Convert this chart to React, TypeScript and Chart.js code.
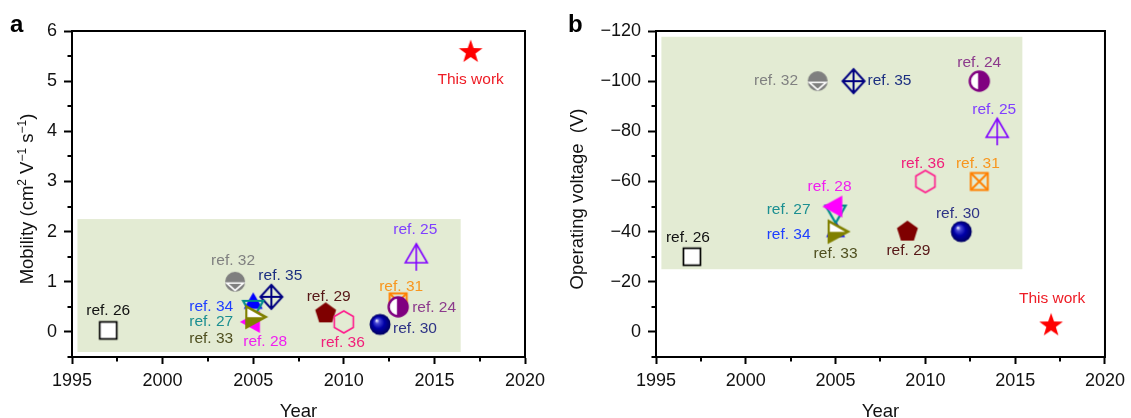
import React, { useEffect, useRef } from 'react';
import { Chart, registerables } from 'chart.js';

Chart.register(...registerables);

// ---------------- data ----------------
const refNames = ['ref. 26', 'ref. 32', 'ref. 35', 'ref. 34', 'ref. 27', 'ref. 28', 'ref. 33', 'ref. 29', 'ref. 36', 'ref. 30', 'ref. 31', 'ref. 24', 'ref. 25', 'This work'];
const refYears = [1997, 2004, 2006, 2005, 2005, 2005, 2005, 2009, 2010, 2012, 2013, 2013, 2014, 2017];
const mobilityValues = [0.03, 1.0, 0.7, 0.57, 0.5, 0.2, 0.3, 0.37, 0.2, 0.15, 0.6, 0.5, 1.5, 5.6];
const voltageValues = [-30, -100, -100, -40, -48, -50, -40, -40, -60, -40, -60, -100, -80, -3];

const yearTickValues = [1995, 2000, 2005, 2010, 2015, 2020];
const mobilityTickValues = [0, 1, 2, 3, 4, 5, 6];
const voltageTickValues = [-120, -100, -80, -60, -40, -20, 0];

const shadeYearsA = [1995.3, 2016.45];
const shadeMobility = [-0.4, 2.25];
const shadeYearsB = [1995.3, 2015.4];
const shadeVoltage = [-117.7, -25];

// ---------------- styles ----------------
const FONT = "'Liberation Sans', Arial, Helvetica, sans-serif";
const markerKinds = ['square', 'halfDisc', 'crossDiamond', 'triUp', 'triDown', 'triLeft', 'triRight', 'pentagon', 'hexagon', 'sphere', 'crossBox', 'halfCircle', 'arrowTri', 'star'];
const labelColors = ['#111111', '#808080', '#1c2f80', '#1f3fff', '#1b8f91', '#f01ff0', '#4f4f1f', '#561616', '#f0207a', '#2e3386', '#f8961e', '#8c3a8c', '#7f3fff', '#ee1c25'];

type Off = [number, number, CanvasTextAlign];
const labelOffsetsA: Off[] = [
  [0, -20, 'center'], [-2, -21, 'center'], [9, -21, 'center'], [-20, 3, 'right'], [-20, 15, 'right'],
  [12, 20, 'center'], [-20, 22, 'right'], [3, -17, 'center'], [-1, 21, 'center'], [13, 4, 'left'],
  [3, -15, 'center'], [14, 1, 'left'], [-1, -27, 'center'], [0, 29, 'center'],
];
const labelOffsetsB: Off[] = [
  [-4, -18.5, 'center'], [-19.6, 0, 'right'], [14, 0, 'left'], [-25, 3, 'right'], [-25, -1.6, 'right'],
  [-6, -20, 'center'], [0, 22.6, 'center'], [1, 19.5, 'center'], [-2.5, -17.5, 'center'], [-3.4, -17.7, 'center'],
  [-1.4, -17.5, 'center'], [0, -18.5, 'center'], [-3, -21.4, 'center'], [1, -25.5, 'center'],
];

// ---------------- markers ----------------
function markerCanvas(draw: (c: CanvasRenderingContext2D) => void, size = 34): HTMLCanvasElement {
  const cv = document.createElement('canvas');
  cv.width = size;
  cv.height = size;
  const c = cv.getContext('2d') as CanvasRenderingContext2D;
  c.translate(size / 2, size / 2);
  draw(c);
  return cv;
}
function poly(c: CanvasRenderingContext2D, pts: number[][]) {
  c.beginPath();
  pts.forEach(([x, y], i) => (i ? c.lineTo(x, y) : c.moveTo(x, y)));
  c.closePath();
}
function regular(c: CanvasRenderingContext2D, n: number, R: number, rot: number) {
  const pts: number[][] = [];
  for (let i = 0; i < n; i++) {
    const a = rot + (i * 2 * Math.PI) / n;
    pts.push([R * Math.cos(a), R * Math.sin(a)]);
  }
  poly(c, pts);
}

function buildMarker(kind: string): HTMLCanvasElement {
  switch (kind) {
    case 'square':
      return markerCanvas((c) => {
        c.fillStyle = '#fff';
        c.fillRect(-8.5, -8.5, 17, 17);
        c.strokeStyle = '#000';
        c.lineWidth = 1.7;
        c.strokeRect(-8.5, -8.5, 17, 17);
      });
    case 'halfDisc':
      return markerCanvas((c) => {
        c.fillStyle = '#7f7f7f';
        c.beginPath();
        c.arc(0, 0, 10, 0, Math.PI * 2);
        c.fill();
        c.strokeStyle = '#fff';
        c.lineWidth = 1.6;
        poly(c, [[-8.4, 1.2], [8.4, 1.2], [0, 8.6]]);
        c.stroke();
      });
    case 'crossDiamond':
      return markerCanvas((c) => {
        c.strokeStyle = '#000080';
        c.lineWidth = 2;
        poly(c, [[0, -12], [11, 0], [0, 12], [-11, 0]]);
        c.stroke();
        c.beginPath();
        c.moveTo(0, -12); c.lineTo(0, 12);
        c.moveTo(-11, 0); c.lineTo(11, 0);
        c.stroke();
      });
    case 'triUp':
      return markerCanvas((c) => {
        c.fillStyle = '#0000ff';
        poly(c, [[0, -11], [9.5, 5.5], [-9.5, 5.5]]);
        c.fill();
      });
    case 'triDown':
      return markerCanvas((c) => {
        c.strokeStyle = '#008b8b';
        c.lineWidth = 2.2;
        poly(c, [[-10, -6], [10, -6], [0, 11.5]]);
        c.stroke();
      });
    case 'triLeft':
      return markerCanvas((c) => {
        c.fillStyle = '#ff00ff';
        poly(c, [[6.7, -11], [6.7, 11], [-13.3, 0]]);
        c.fill();
      });
    case 'triRight':
      return markerCanvas((c) => {
        c.fillStyle = '#808000';
        poly(c, [[-8, -12.5], [-8, 12.5], [15, 0]]);
        c.fill();
        c.fillStyle = '#fff';
        poly(c, [[-5.8, -8.6], [9.6, 0.3], [-5.8, 0.3]]);
        c.fill();
      });
    case 'pentagon':
      return markerCanvas((c) => {
        c.fillStyle = '#7f0000';
        regular(c, 5, 11, -Math.PI / 2);
        c.fill();
      });
    case 'hexagon':
      return markerCanvas((c) => {
        c.strokeStyle = '#ff1a8c';
        c.lineWidth = 1.6;
        regular(c, 6, 11, -Math.PI / 2);
        c.stroke();
      });
    case 'sphere':
      return markerCanvas((c) => {
        const g = c.createRadialGradient(-3.5, -4, 0.3, 0, 0, 10.5);
        g.addColorStop(0, '#f0f0ff');
        g.addColorStop(0.2, '#4a4ad6');
        g.addColorStop(0.55, '#0000a8');
        g.addColorStop(1, '#00005e');
        c.fillStyle = g;
        c.beginPath();
        c.arc(0, 0, 10.5, 0, Math.PI * 2);
        c.fill();
      });
    case 'crossBox':
      return markerCanvas((c) => {
        c.strokeStyle = '#ff8000';
        c.lineWidth = 2;
        c.strokeRect(-8.5, -8.5, 17, 17);
        c.beginPath();
        c.moveTo(-8.5, -8.5); c.lineTo(8.5, 8.5);
        c.moveTo(8.5, -8.5); c.lineTo(-8.5, 8.5);
        c.stroke();
      });
    case 'halfCircle':
      return markerCanvas((c) => {
        c.fillStyle = '#fff';
        c.beginPath();
        c.arc(0, 0, 9.5, 0, Math.PI * 2);
        c.fill();
        c.fillStyle = '#800080';
        c.beginPath();
        c.arc(0, 0, 9.5, -Math.PI / 2, Math.PI / 2);
        c.closePath();
        c.fill();
        c.strokeStyle = '#800080';
        c.lineWidth = 2.4;
        c.beginPath();
        c.arc(0, 0, 9.5, 0, Math.PI * 2);
        c.stroke();
        c.beginPath();
        c.moveTo(0, -9.5); c.lineTo(0, 9.5);
        c.stroke();
      });
    case 'arrowTri':
      return markerCanvas((c) => {
        c.strokeStyle = '#8000ff';
        c.lineWidth = 1.6;
        poly(c, [[0, -13], [11, 6], [-11, 6]]);
        c.stroke();
        c.beginPath();
        c.moveTo(0, -13); c.lineTo(0, 14);
        c.stroke();
      });
    case 'star':
    default:
      return markerCanvas((c) => {
        c.fillStyle = '#ff0000';
        const pts: number[][] = [];
        for (let i = 0; i < 10; i++) {
          const r = i % 2 === 0 ? 12.5 : 5;
          const a = -Math.PI / 2 + (i * Math.PI) / 5;
          pts.push([r * Math.cos(a), r * Math.sin(a) + 1]);
        }
        poly(c, pts);
        c.fill();
      });
  }
}

// ---------------- panel config ----------------
interface PanelCfg {
  letter: string;
  values: number[];
  yMin: number;
  yMax: number;
  reverse: boolean;
  yTicks: number[];
  yMinorStep: number;
  yWidth: number;
  padRight: number;
  shadeX: number[];
  shadeY: number[];
  offsets: Off[];
  titleX: number;
  titleParts: { t: string; sup?: boolean }[];
  fmt: (v: number) => string;
}

function panelPlugin(p: PanelCfg) {
  return {
    id: 'panelDeco' + p.letter,
    beforeDatasetsDraw(chart: any) {
      const { ctx } = chart;
      const xs = chart.scales.x;
      const ys = chart.scales.y;
      const x0 = xs.getPixelForValue(p.shadeX[0]);
      const x1 = xs.getPixelForValue(p.shadeX[1]);
      const y0 = ys.getPixelForValue(p.shadeY[0]);
      const y1 = ys.getPixelForValue(p.shadeY[1]);
      ctx.save();
      ctx.fillStyle = '#e3ebd3';
      ctx.fillRect(Math.min(x0, x1), Math.min(y0, y1), Math.abs(x1 - x0), Math.abs(y1 - y0));
      ctx.restore();
    },
    afterDatasetsDraw(chart: any) {
      const { ctx } = chart;
      const meta = chart.getDatasetMeta(0);
      ctx.save();
      ctx.font = `15.5px ${FONT}`;
      ctx.textBaseline = 'middle';
      refNames.forEach((name, i) => {
        const el = meta.data[i];
        const [dx, dy, align] = p.offsets[i];
        ctx.fillStyle = labelColors[i];
        ctx.textAlign = align;
        ctx.fillText(name, el.x + dx, el.y + dy);
      });
      ctx.restore();
    },
    afterDraw(chart: any) {
      const { ctx, chartArea: a } = chart;
      const xs = chart.scales.x;
      const ys = chart.scales.y;
      ctx.save();
      ctx.strokeStyle = '#000';
      ctx.lineWidth = 2;
      ctx.strokeRect(a.left, a.top, a.right - a.left, a.bottom - a.top);
      // minor ticks
      ctx.beginPath();
      for (let i = 0; i < yearTickValues.length - 1; i++) {
        const v = (yearTickValues[i] + yearTickValues[i + 1]) / 2;
        const px = Math.round(xs.getPixelForValue(v));
        ctx.moveTo(px, a.bottom);
        ctx.lineTo(px, a.bottom + 4.5);
      }
      const lo = Math.min(p.yMin, p.yMax);
      const hi = Math.max(p.yMin, p.yMax);
      const first = p.yTicks[0];
      for (let v = first - p.yMinorStep * 11; v <= hi + 1e-9; v += p.yMinorStep * 2) {
        const mv = v + 0;
        if (mv < lo - 1e-9 || mv > hi + 1e-9) continue;
        if (p.yTicks.some((t) => Math.abs(t - mv) < 1e-9)) continue;
        const py = Math.round(ys.getPixelForValue(mv));
        ctx.moveTo(a.left - 4.5, py);
        ctx.lineTo(a.left, py);
      }
      ctx.stroke();

      // panel letter
      ctx.fillStyle = '#000';
      ctx.font = `bold 24px ${FONT}`;
      ctx.textAlign = 'left';
      ctx.textBaseline = 'alphabetic';
      ctx.fillText(p.letter, p.letter === 'a' ? 10 : 8, 32);

      // x title
      ctx.fillStyle = '#111';
      ctx.font = `18.5px ${FONT}`;
      ctx.textAlign = 'center';
      ctx.fillText('Year', (a.left + a.right) / 2, 417);

      // y title (rich text)
      const big = `18.5px ${FONT}`;
      const small = `12px ${FONT}`;
      let total = 0;
      const widths = p.titleParts.map((part) => {
        ctx.font = part.sup ? small : big;
        const w = ctx.measureText(part.t).width;
        total += w;
        return w;
      });
      ctx.translate(p.titleX, 199);
      ctx.rotate(-Math.PI / 2);
      ctx.textAlign = 'left';
      let cx = -total / 2;
      p.titleParts.forEach((part, i) => {
        ctx.font = part.sup ? small : big;
        ctx.fillText(part.t, cx, part.sup ? -7 : 0);
        cx += widths[i];
      });
      ctx.restore();
    },
  };
}

function buildChart(canvas: HTMLCanvasElement, p: PanelCfg) {
  const markers = markerKinds.map(buildMarker);
  const data = refYears.map((x, i) => ({ x, y: p.values[i] }));
  return new Chart(canvas, {
    type: 'scatter',
    data: {
      datasets: [
        {
          data,
          pointStyle: (ctx: any) => markers[ctx.dataIndex] as any,
          pointRadius: 10,
          pointHoverRadius: 10,
          showLine: false,
        } as any,
      ],
    },
    options: {
      animation: false,
      responsive: false,
      devicePixelRatio: 1,
      events: [],
      layout: { padding: { left: 0, top: 31, right: p.padRight, bottom: 0 } },
      plugins: { legend: { display: false }, tooltip: { enabled: false } },
      scales: {
        x: {
          type: 'linear',
          position: 'bottom',
          min: yearTickValues[0],
          max: yearTickValues[yearTickValues.length - 1],
          afterBuildTicks: (s: any) => {
            s.ticks = yearTickValues.map((v) => ({ value: v }));
          },
          afterFit: (s: any) => {
            s.height = 61;
          },
          ticks: {
            autoSkip: false,
            maxRotation: 0,
            padding: 6,
            color: '#111',
            font: { family: FONT, size: 18 },
            callback: (v: any) => String(v),
          },
          grid: { display: true, drawOnChartArea: false, drawTicks: true, tickLength: 7, tickWidth: 2, tickColor: '#000' },
          border: { display: true, color: '#000', width: 2 },
        },
        y: {
          type: 'linear',
          position: 'left',
          min: p.yMin,
          max: p.yMax,
          reverse: p.reverse,
          afterBuildTicks: (s: any) => {
            s.ticks = p.yTicks.map((v) => ({ value: v }));
          },
          afterFit: (s: any) => {
            s.width = p.yWidth;
          },
          ticks: {
            autoSkip: false,
            padding: 7,
            color: '#111',
            font: { family: FONT, size: 18 },
            callback: (v: any) => p.fmt(Number(v)),
          },
          grid: { display: true, drawOnChartArea: false, drawTicks: true, tickLength: 8, tickWidth: 2, tickColor: '#000' },
          border: { display: true, color: '#000', width: 2 },
        },
      },
    } as any,
    plugins: [panelPlugin(p) as any],
  });
}

const panelA: PanelCfg = {
  letter: 'a',
  values: mobilityValues,
  yMin: -0.5,
  yMax: 6,
  reverse: false,
  yTicks: mobilityTickValues,
  yMinorStep: 0.5,
  yWidth: 72,
  padRight: 35,
  shadeX: shadeYearsA,
  shadeY: shadeMobility,
  offsets: labelOffsetsA,
  titleX: 33,
  titleParts: [
    { t: 'Mobility (cm' },
    { t: '2', sup: true },
    { t: ' V' },
    { t: '\u22121', sup: true },
    { t: ' s' },
    { t: '\u22121', sup: true },
    { t: ')' },
  ],
  fmt: (v) => String(v),
};

const panelB: PanelCfg = {
  letter: 'b',
  values: voltageValues,
  yMin: -120,
  yMax: 10,
  reverse: true,
  yTicks: voltageTickValues,
  yMinorStep: 10,
  yWidth: 96,
  padRight: 23,
  shadeX: shadeYearsB,
  shadeY: shadeVoltage,
  offsets: labelOffsetsB,
  titleX: 23,
  titleParts: [{ t: 'Operating voltage  (V)' }],
  fmt: (v) => (v < 0 ? '\u2212' + Math.abs(v) : String(v)),
};

export default function App() {
  const refA = useRef<HTMLCanvasElement>(null);
  const refB = useRef<HTMLCanvasElement>(null);
  useEffect(() => {
    const a = buildChart(refA.current as HTMLCanvasElement, panelA);
    const b = buildChart(refB.current as HTMLCanvasElement, panelB);
    return () => {
      a.destroy();
      b.destroy();
    };
  }, []);
  return (
    <div style={{ position: 'absolute', left: 0, top: 0, width: 1131, height: 418, background: '#fff' }}>
      <canvas ref={refA} width={560} height={418} style={{ position: 'absolute', left: 0, top: 0, width: 560, height: 418 }} />
      <canvas ref={refB} width={571} height={418} style={{ position: 'absolute', left: 560, top: 0, width: 571, height: 418 }} />
    </div>
  );
}
